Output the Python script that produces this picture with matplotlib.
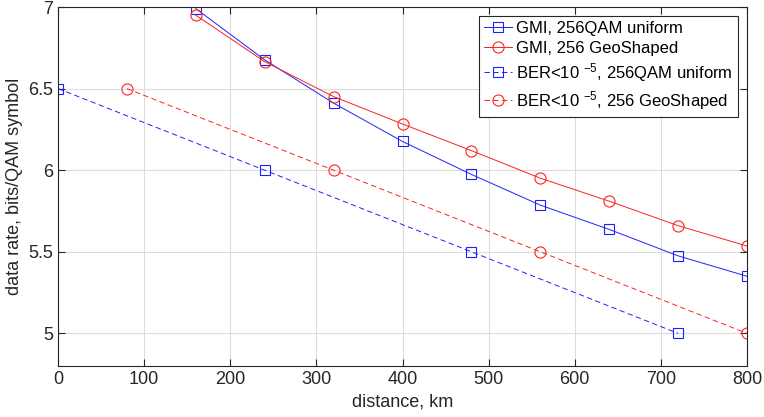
import numpy as np
import matplotlib.pyplot as plt

plt.rcParams['font.family'] = ['Liberation Sans', 'DejaVu Sans']
plt.rcParams['mathtext.default'] = 'regular'

# distances in km
dist_gmi = [160, 240, 320, 400, 480, 560, 640, 720, 800]
gmi_uniform = [6.99, 6.676, 6.411, 6.176, 5.974, 5.786, 5.637, 5.475, 5.35]
gmi_geo = [6.95, 6.665, 6.451, 6.283, 6.12, 5.951, 5.81, 5.66, 5.535]

dist_ber_uniform = [0, 240, 480, 720]
ber_uniform = [6.5, 6.0, 5.5, 5.0]
dist_ber_geo = [80, 320, 560, 800]
ber_geo = [6.5, 6.0, 5.5, 5.0]

labels = ['GMI, 256QAM uniform', 'GMI, 256 GeoShaped',
          'BER<10 $^{-5}$, 256QAM uniform', 'BER<10 $^{-5}$, 256 GeoShaped']

fig = plt.figure(figsize=(7.64, 4.17), dpi=100)
ax = fig.add_axes([58 / 764, 51 / 417, 689 / 764, 359 / 417])

blue = '#2020ff'
red = '#ff2020'
dash = (5.5, 3.5)
ax.plot(dist_gmi, gmi_uniform, '-s', color=blue, lw=0.7, ms=6.5,
        mfc='none', mew=0.8, label=labels[0])
ax.plot(dist_gmi, gmi_geo, '-o', color=red, lw=0.7, ms=8,
        mfc='none', mew=0.8, label=labels[1])
ax.plot(dist_ber_uniform, ber_uniform, 's', ls='--', dashes=dash, color=blue,
        lw=0.7, ms=6.5, mfc='none', mew=0.8, label=labels[2])
ax.plot(dist_ber_geo, ber_geo, 'o', ls='--', dashes=dash, color=red,
        lw=0.7, ms=8, mfc='none', mew=0.8, label=labels[3])

ax.set_xlim(0, 800)
ax.set_ylim(4.8, 7)
ax.set_xticks(np.arange(0, 801, 100))
ax.set_yticks([5, 5.5, 6, 6.5, 7])
ax.set_yticklabels(['5', '5.5', '6', '6.5', '7'])
ax.grid(True, color='#dcdcdc', lw=0.8)
ax.set_axisbelow(True)
ax.tick_params(direction='in', top=True, right=True, length=5,
               labelsize=13, colors='#262626', width=0.8)
for sp in ax.spines.values():
    sp.set_color('#262626')
    sp.set_linewidth(0.8)

ax.set_xlabel('distance, km', fontsize=13, color='#262626')
ax.set_ylabel('data rate, bits/QAM symbol', fontsize=13, color='#262626',
              labelpad=4)

leg = ax.legend(loc='upper right', bbox_to_anchor=(0.987, 0.975),
                fontsize=12, fancybox=False, framealpha=1,
                edgecolor='#262626', handlelength=1.7, borderpad=0.3,
                labelspacing=0.3, handletextpad=0.25, borderaxespad=0)
leg.get_frame().set_linewidth(0.8)

fig.savefig('out.png', dpi=100)
